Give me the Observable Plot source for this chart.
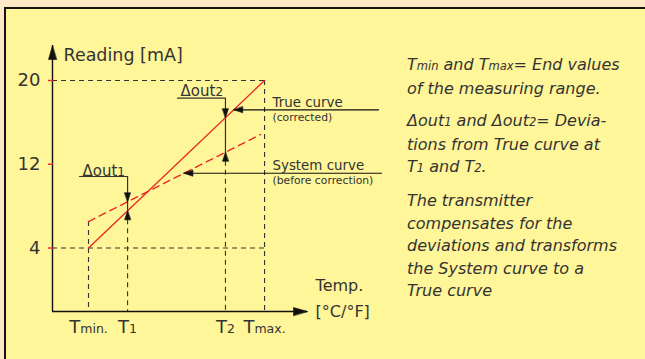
<!DOCTYPE html>
<html>
<head>
<meta charset="utf-8">
<script src="https://cdn.jsdelivr.net/npm/d3@7"></script>
<script src="https://cdn.jsdelivr.net/npm/@observablehq/plot@0.6"></script>
<style>
  html, body { margin: 0; padding: 0; background: #fde9c6; }
  #wrap { position: relative; width: 645px; height: 359px; overflow: hidden; background: #fde9c6; }
  #box { position: absolute; left: 4px; top: 7px; width: 660px; height: 370px; background: #fff599;
         border-left: 2px solid #141414; border-top: 2px solid #141414; box-sizing: border-box; }
  #chart { position: absolute; left: 0; top: 0; }
  #note { position: absolute; left: 407px; top: 54px; width: 236px; color: #333;
          font-family: "DejaVu Sans", sans-serif; font-style: italic; font-size: 16px; line-height: 22.6px; }
  #note p { margin: 0 0 10px 0; }
  #note .s { font-size: 11.5px; }
</style>
</head>
<body>
<div id="wrap">
  <div id="box"></div>
  <div id="chart"></div>
  <div id="note">
    <p>T<span class="s">min</span> and T<span class="s">max</span>= End values<br>of the measuring range.</p>
    <p>Δout<span class="s">1</span> and Δout<span class="s">2</span>= Devia-<br>tions from True curve at<br>T<span class="s">1</span> and T<span class="s">2</span>.</p>
    <p>The transmitter<br>compensates for the<br>deviations and transforms<br>the System curve to a<br>True curve</p>
  </div>
</div>
<script>
// ---- data ----
const yTicks = [4, 12, 20];
const xTickPos = [0, 22.2, 77.8, 100];          // Tmin, T1, T2, Tmax (in % of range)
const xTickMain = ["T", "T", "T", "T"];
const xTickSub = ["min.", "1", "2", "max."];
const trueX = [0, 100];
const trueY = [4, 20];
const systemX = [0, 97.7];
const systemY = [6.53, 14.84];
const xAxisSpan = [-20.45, 124.4];
const yAxisSpan = [-2.06, 23.34];
const deltaLabels = ["Δout", "Δout"];
const deltaSubs = ["1", "2"];
const deltaLevels = [10.83, 18.31];
const deltaStarts = [-5.1, 50.6];
const curveNames = ["True curve", "System curve"];
const curveNotes = ["(corrected)", "(before correction)"];
const curveLabelLevels = [17.2, 11.14];
const curveLabelEnds = [165.3, 167];
const axisTitleY = "Reading [mA]";
const axisTitleX = ["Temp.", "[°C/°F]"];

const red = "#e62a24";
const ink = "#333333";
const font = "DejaVu Sans";

const lerp = (xs, ys) => x => ys[0] + (ys[1] - ys[0]) * (x - xs[0]) / (xs[1] - xs[0]);
const inv = (xs, ys) => y => xs[0] + (xs[1] - xs[0]) * (y - ys[0]) / (ys[1] - ys[0]);
const trueAt = lerp(trueX, trueY), sysAt = lerp(systemX, systemY);
const trueXAt = inv(trueX, trueY), sysXAt = inv(systemX, systemY);
const [Tmin, T1, T2, Tmax] = xTickPos;
const x0 = xAxisSpan[0], y0 = yAxisSpan[0];

const trueLine = trueX.map((x, i) => ({x, y: trueY[i]}));
const sysLine = systemX.map((x, i) => ({x, y: systemY[i]}));

const verticals = [
  {x: Tmin, top: sysAt(Tmin)},
  {x: T1, top: trueAt(T1)},
  {x: T2, top: sysAt(T2)},
  {x: Tmax, top: trueAt(Tmax)}
];
const deltaPaths = [
  [{x: deltaStarts[0], y: deltaLevels[0], k: 0}, {x: T1, y: deltaLevels[0], k: 0}, {x: T1, y: trueAt(T1), k: 0}],
  [{x: deltaStarts[1], y: deltaLevels[1], k: 1}, {x: T2, y: deltaLevels[1], k: 1}, {x: T2, y: sysAt(T2), k: 1}]
].flat();
const labelLines = [
  {x1: trueXAt(curveLabelLevels[0]), x2: curveLabelEnds[0], y: curveLabelLevels[0]},
  {x1: sysXAt(curveLabelLevels[1]), x2: curveLabelEnds[1], y: curveLabelLevels[1]}
];
const smallHeads = [
  {x: T1, y: sysAt(T1), r: 180},
  {x: T1, y: trueAt(T1), r: 0},
  {x: T2, y: trueAt(T2), r: 180},
  {x: T2, y: sysAt(T2), r: 0},
  {x: labelLines[0].x1, y: labelLines[0].y, r: 270},
  {x: labelLines[1].x1, y: labelLines[1].y, r: 270}
];
const bigHeads = [
  {x: x0, y: yAxisSpan[1], r: 0},
  {x: xAxisSpan[1], y: y0, r: 90}
];
const head = (len, half) => ({
  draw(ctx) { ctx.moveTo(0, 0); ctx.lineTo(-half, len); ctx.lineTo(half, len); ctx.closePath(); }
});

const curveTexts = [
  {x: 104.5, y: 17.88, t: curveNames[0], s: 13.4},
  {x: 104.5, y: 16.45, t: curveNotes[0], s: 10.8},
  {x: 104.5, y: 11.86, t: curveNames[1], s: 13.4},
  {x: 104.5, y: 10.45, t: curveNotes[1], s: 10.8}
];
const deltaTexts = [
  {x: -3.4, y: 11.38, i: 0},
  {x: 52.3, y: 18.93, i: 1}
];

const chart = Plot.plot({
  width: 645, height: 359,
  marginLeft: 52, marginRight: 338, marginTop: 45, marginBottom: 48,
  style: {background: "transparent", fontFamily: font, color: ink, overflow: "visible"},
  x: {domain: xAxisSpan, axis: null},
  y: {domain: yAxisSpan, axis: null},
  marks: [
    // reference dashed lines
    Plot.ruleY([20, 4], {x1: Tmax, x2: x0, stroke: ink, strokeWidth: 1.1, strokeDasharray: "5,4"}),
    Plot.ruleX(verticals, {x: "x", y1: "top", y2: y0, stroke: ink, strokeWidth: 1.1, strokeDasharray: "5,4"}),
    // delta indicator lines
    Plot.line(deltaPaths, {x: "x", y: "y", z: "k", stroke: ink, strokeWidth: 1.2}),
    // label leader lines
    Plot.ruleY(labelLines, {x1: "x1", x2: "x2", y: "y", stroke: "#111", strokeWidth: 1.2}),
    // curves
    Plot.line(trueLine, {x: "x", y: "y", stroke: red, strokeWidth: 1.4}),
    Plot.line(sysLine, {x: "x", y: "y", stroke: red, strokeWidth: 1.4, strokeDasharray: "7,5"}),
    // axes lines
    Plot.ruleX([x0], {y1: y0, y2: yAxisSpan[1], stroke: "#111", strokeWidth: 1.4}),
    Plot.ruleY([y0], {x1: x0, x2: xAxisSpan[1], stroke: "#111", strokeWidth: 1.4}),
    Plot.ruleY(yTicks, {x1: x0, x2: x0, insetLeft: -4, insetRight: -1, stroke: red, strokeWidth: 1.4}),
    // arrowheads
    Plot.vector(smallHeads, {x: "x", y: "y", rotate: "r", length: 0, anchor: "start", shape: head(9, 3), fill: "#111", stroke: "#111", strokeWidth: 0.6}),
    Plot.vector(bigHeads, {x: "x", y: "y", rotate: "r", length: 0, anchor: "start", shape: head(14, 4), fill: "#111", stroke: "#111", strokeWidth: 0.6}),
    // axes tick labels
    Plot.axisY({ticks: yTicks, tickSize: 0, tickPadding: 12, fontSize: 18, label: null, color: ink}),
    Plot.axisX({ticks: xTickPos, tickSize: 0, tickPadding: 8.9, fontSize: 18, label: null, color: ink,
      tickFormat: d => xTickMain[xTickPos.indexOf(d)] + xTickSub[xTickPos.indexOf(d)]}),
    // axis titles
    Plot.text([axisTitleY], {x: -14.2, y: 22.35, text: d => d, textAnchor: "start", fontSize: 17.5, fill: ink}),
    Plot.text(axisTitleX, {x: 129, y: (d, i) => [0.36, -2.12][i], text: d => d, textAnchor: "start", fontSize: 16, fill: ink}),
    // curve labels
    Plot.text(curveTexts, {x: "x", y: "y", text: "t", fontSize: "s", textAnchor: "start", fill: ink}),
    // delta labels
    Plot.text(deltaTexts, {x: "x", y: "y", text: d => deltaLabels[d.i] + deltaSubs[d.i], textAnchor: "start", fontSize: 15, fill: ink})
  ]
});
document.getElementById("chart").appendChild(chart);

// render the smaller subscript parts (as in the reference) with tspans
function subscript(mains, subs, subSize) {
  const full = mains.map((m, i) => m + subs[i]);
  d3.select(chart).selectAll("text").each(function() {
    const k = full.indexOf(this.textContent);
    if (k < 0) return;
    const t = d3.select(this);
    t.text(null);
    t.append("tspan").text(mains[k]);
    t.append("tspan").attr("font-size", subSize).text(subs[k]);
  });
}
subscript(xTickMain, xTickSub, 12.5);
subscript(deltaLabels, deltaSubs, 12);
</script>
</body>
</html>
